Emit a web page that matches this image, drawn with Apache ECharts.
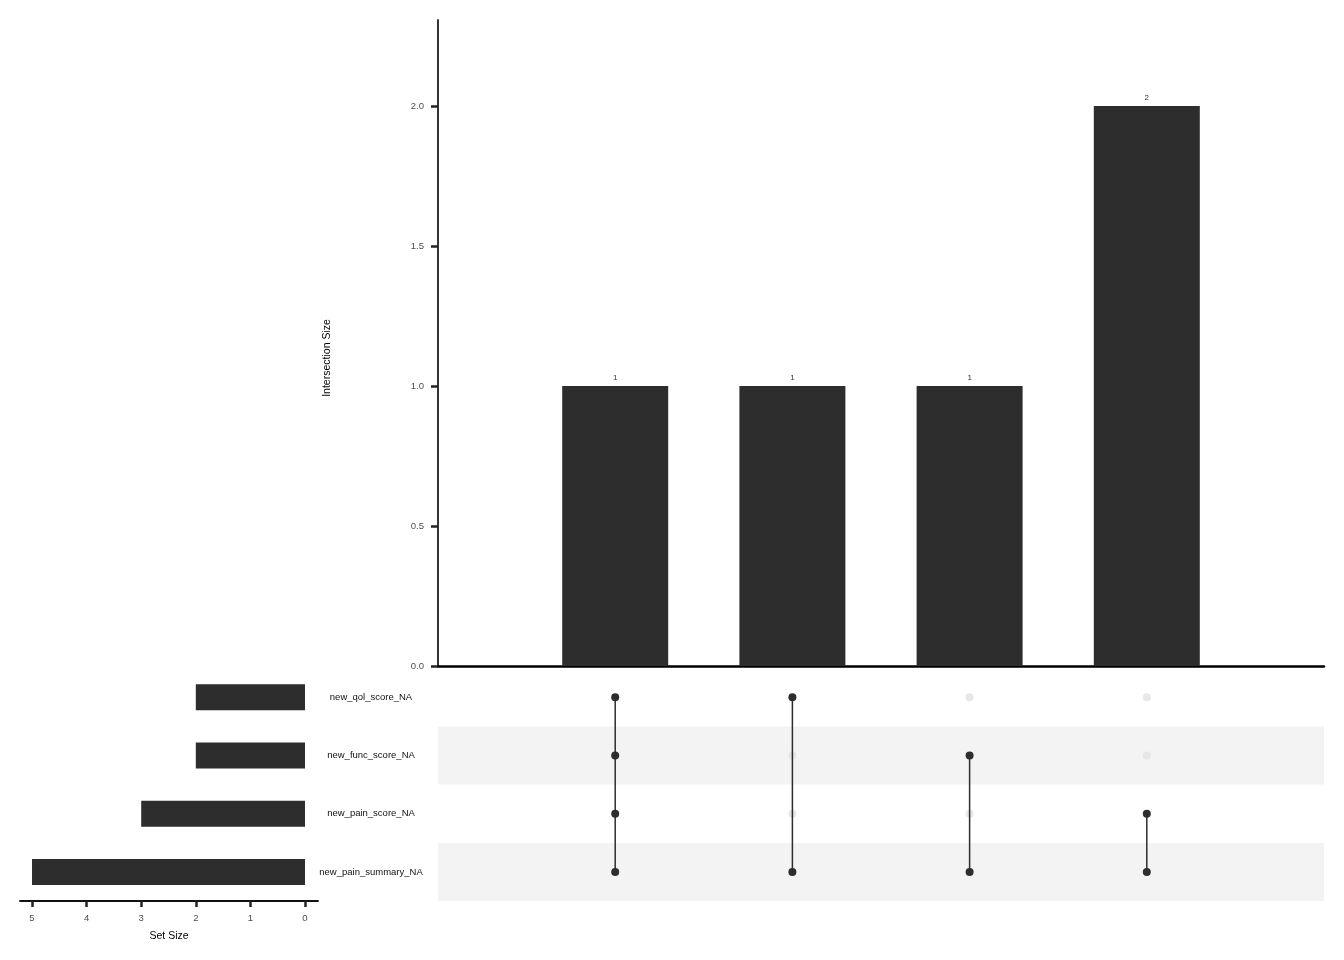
<!DOCTYPE html>
<html>
<head>
<meta charset="utf-8">
<script src="https://cdn.jsdelivr.net/npm/echarts@6/dist/echarts.min.js"></script>
<style>html,body{margin:0;padding:0;background:#fff}#c{width:1344px;height:960px}</style>
</head>
<body>
<div id="c"></div>
<script>
// Sets, bottom-to-top order in the matrix
const setNames = ['new_pain_summary_NA', 'new_pain_score_NA', 'new_func_score_NA', 'new_qol_score_NA'];
const setSizes = [5, 3, 2, 2];
// Intersections (columns, left to right)
const intersectionSizes = [1, 1, 1, 2];
const intersectionSets = [
  ['new_qol_score_NA', 'new_func_score_NA', 'new_pain_score_NA', 'new_pain_summary_NA'],
  ['new_qol_score_NA', 'new_pain_summary_NA'],
  ['new_func_score_NA', 'new_pain_summary_NA'],
  ['new_pain_score_NA', 'new_pain_summary_NA']
];
const mainTicks = [0, 0.5, 1, 1.5, 2];
const setTicks = [0, 1, 2, 3, 4, 5];

const dark = '#2d2d2d';
const light = '#e2e2e2';
const font = 'Liberation Sans, Arial, Helvetica, sans-serif';

const chart = echarts.init(document.getElementById('c'), null, {renderer: 'canvas'});

const dotActive = [], dotInactive = [];
const lineSeries = [];
intersectionSets.forEach((sets, i) => {
  const x = i + 1;
  setNames.forEach(s => {
    (sets.includes(s) ? dotActive : dotInactive).push([x, s]);
  });
  const idx = sets.map(s => setNames.indexOf(s));
  const lo = Math.min(...idx), hi = Math.max(...idx);
  lineSeries.push({
    type: 'line', xAxisIndex: 1, yAxisIndex: 1,
    data: [[x, setNames[lo]], [x, setNames[hi]]],
    symbol: 'none', lineStyle: {color: dark, width: 1.5}, z: 3, silent: true
  });
});

const option = {
  animation: false,
  backgroundColor: '#fff',
  textStyle: {fontFamily: font},
  graphic: [
    {type: 'text', x: 327, y: 358, rotation: Math.PI / 2,
     style: {text: 'Intersection Size', fill: '#000', font: '10.5px ' + font,
             align: 'center', verticalAlign: 'middle'}}
  ],
  grid: [
    {left: 438, top: 20, width: 886, height: 646},
    {left: 438, top: 668, width: 886, height: 233},
    {left: 20, top: 668, width: 298, height: 233}
  ],
  xAxis: [
    {gridIndex: 0, type: 'value', min: 0, max: 5, show: true,
     axisLine: {show: true, onZero: false, lineStyle: {color: '#000', width: 2.5}},
     axisTick: {show: false}, axisLabel: {show: false}, splitLine: {show: false}},
    {gridIndex: 1, type: 'value', min: 0, max: 5, show: false},
    {gridIndex: 2, type: 'value', inverse: true, min: -0.238, max: 5.22,
     axisLine: {show: true, onZero: false, lineStyle: {color: '#111', width: 1.8}},
     axisTick: {show: true, length: 6, lineStyle: {color: '#222', width: 2.5}, customValues: setTicks},
     axisLabel: {show: true, color: '#4d4d4d', fontSize: 9.5, margin: 12, customValues: setTicks},
     splitLine: {show: false},
     name: 'Set Size', nameLocation: 'middle', nameGap: 30,
     nameTextStyle: {color: '#000', fontSize: 10.5, fontFamily: font}}
  ],
  yAxis: [
    {gridIndex: 0, type: 'value', min: 0, max: 2.307,
     axisLine: {show: true, lineStyle: {color: '#333', width: 2}},
     axisTick: {show: true, length: 7, lineStyle: {color: '#222', width: 2.5}, customValues: mainTicks},
     axisLabel: {show: true, color: '#4d4d4d', fontSize: 9.5, margin: 14, customValues: mainTicks,
                 formatter: v => v.toFixed(1)},
     splitLine: {show: false}},
    {gridIndex: 1, type: 'category', data: setNames,
     axisLine: {show: false}, axisTick: {show: false},
     axisLabel: {show: true, align: 'center', margin: 67, color: '#111', fontSize: 9.5,
                 padding: [2, 0, 0, 0]},
     splitLine: {show: false},
     splitArea: {show: true, areaStyle: {color: ['#f3f3f3', '#ffffff']}}},
    {gridIndex: 2, type: 'category', data: setNames, show: false}
  ],
  series: [
    {type: 'bar', xAxisIndex: 0, yAxisIndex: 0,
     data: intersectionSizes.map((v, i) => [i + 1, v]),
     barWidth: 106, itemStyle: {color: dark},
     label: {show: true, position: 'top', distance: 4, color: '#333', fontSize: 8}},
    {type: 'scatter', xAxisIndex: 1, yAxisIndex: 1, data: dotInactive,
     symbolSize: 8, itemStyle: {color: light}, z: 2},
    ...lineSeries,
    {type: 'scatter', xAxisIndex: 1, yAxisIndex: 1, data: dotActive,
     symbolSize: 8, itemStyle: {color: dark, opacity: 1}, z: 4},
    {type: 'bar', xAxisIndex: 2, yAxisIndex: 2,
     data: setSizes, barWidth: 26, itemStyle: {color: dark}}
  ]
};
chart.setOption(option);
</script>
</body>
</html>
